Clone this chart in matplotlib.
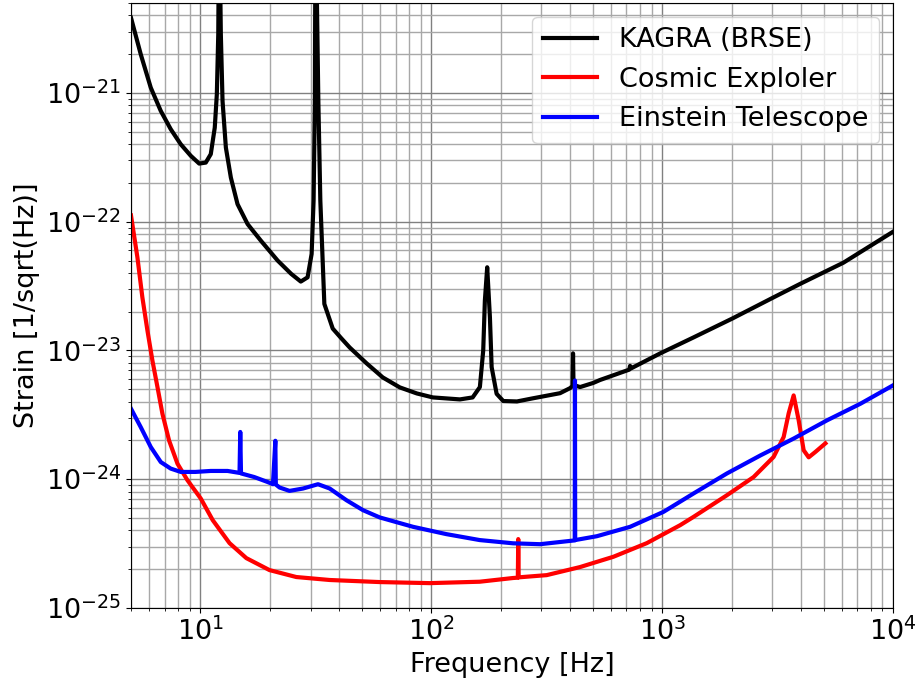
import matplotlib
matplotlib.use('Agg')
import matplotlib.pyplot as plt

###############################################################################
# Data
###############################################################################
KAGRA_F = [5.0, 5.51, 6.09, 6.73, 7.43, 8.21, 9.08, 9.87, 10.54, 11.08,
           11.53, 11.77, 11.94, 12.05, 12.25, 12.46, 12.88, 13.54, 14.47,
           16.0, 18.26, 21.6, 24.7, 27.2, 29.1, 30.3, 30.9, 31.3, 31.5, 32.4,
           33.05, 34.4, 37.4, 40.8, 44.3, 52.5, 61.6, 73.0, 86.5, 101.5,
           133.0, 151.0, 162.3, 167.8, 170.6, 174.6, 179.4, 182.5, 191.8,
           204.9, 235.0, 275.0, 361.0, 399.0, 409.0, 411.0, 413.0, 441.0,
           503.0, 538.0, 720.0, 726.0, 732.0, 980.0, 1363.0, 2012.0, 3030.0,
           3972.0, 6100.0, 10000.0]
KAGRA_H = [3.84e-21, 2.0e-21, 1.1e-21, 7.25e-22, 5.24e-22, 4.0e-22, 3.25e-22,
           2.83e-22, 2.88e-22, 3.35e-22, 5.38e-22, 9.77e-22, 2.86e-21, 3e-20,
           2.86e-21, 8.67e-22, 3.77e-22, 2.2e-22, 1.37e-22, 9.59e-23,
           7.13e-23, 4.99e-23, 3.94e-23, 3.43e-23, 3.7e-23, 5.62e-23,
           1.46e-22, 8.67e-22, 3e-20, 8.67e-22, 1.46e-22, 2.3e-23, 1.48e-23,
           1.24e-23, 1.055e-23, 7.93e-24, 6.18e-24, 5.17e-24, 4.64e-24,
           4.32e-24, 4.17e-24, 4.32e-24, 5.2e-24, 1.0e-23, 2.44e-23, 4.43e-23,
           1.81e-23, 7.43e-24, 4.61e-24, 4.05e-24, 4.02e-24, 4.25e-24,
           4.66e-24, 5.1e-24, 5.3e-24, 9.5e-24, 5.4e-24, 5.2e-24, 5.6e-24,
           5.9e-24, 7.1e-24, 7.6e-24, 7.25e-24, 9.49e-24, 1.26e-23, 1.77e-23,
           2.58e-23, 3.3e-23, 4.81e-23, 8.36e-23]

CE_F = [5.0, 5.33, 5.6, 5.89, 6.19, 6.51, 6.84, 7.31, 7.95, 8.78, 10.03,
        11.3, 13.36, 15.8, 19.9, 26.0, 36.3, 59.8, 98.5, 162.0, 226.0, 237.0,
        238.0, 239.0, 316.0, 441.0, 615.0, 858.0, 1197.0, 1367.0, 1909.0,
        2489.0, 3039.0, 3360.0, 3532.0, 3712.0, 3903.0, 4102.0, 4313.0,
        4611.0, 5095.0]
CE_H = [1.12e-22, 5.29e-23, 2.59e-23, 1.43e-23, 8.36e-24, 5.2e-24, 3.23e-24,
        2.0e-24, 1.32e-24, 9.83e-25, 7.08e-25, 4.81e-25, 3.19e-25, 2.44e-25,
        1.97e-25, 1.74e-25, 1.65e-25, 1.59e-25, 1.56e-25, 1.6e-25, 1.71e-25,
        1.72e-25, 3.43e-25, 1.73e-25, 1.8e-25, 2.08e-25, 2.5e-25, 3.19e-25,
        4.4e-25, 5.1e-25, 7.52e-25, 1.04e-24, 1.49e-24, 2.13e-24, 3.25e-24,
        4.48e-24, 2.87e-24, 1.68e-24, 1.48e-24, 1.63e-24, 1.9e-24]

ET_F = [5.0, 5.51, 6.09, 6.73, 7.43, 8.21, 9.5, 11.08, 13.1, 14.76, 14.87,
        14.98, 17.1, 19.5, 20.6, 21.1, 21.2, 22.0, 24.3, 27.8, 32.3, 36.3,
        42.9, 50.6, 59.8, 83.4, 116.0, 162.0, 226.0, 296.0, 399.0, 418.0,
        419.0, 420.0, 521.0, 726.0, 1013.0, 1367.0, 1909.0, 2662.0, 3712.0,
        5182.0, 7227.0, 10000.0]
ET_H = [3.53e-24, 2.54e-24, 1.78e-24, 1.36e-24, 1.21e-24, 1.14e-24, 1.14e-24,
        1.16e-24, 1.16e-24, 1.12e-24, 2.33e-24, 1.11e-24, 1.04e-24,
        9.53e-25, 9.15e-25, 1.99e-24, 9.1e-25, 8.63e-25, 8.12e-25, 8.47e-25,
        9.15e-25, 8.47e-25, 6.87e-25, 5.75e-25, 5.05e-25, 4.27e-25, 3.75e-25,
        3.37e-25, 3.18e-25, 3.13e-25, 3.32e-25, 3.35e-25, 5.85e-24, 3.37e-25,
        3.61e-25, 4.27e-25, 5.58e-25, 7.75e-25, 1.11e-24, 1.53e-24, 2.07e-24,
        2.87e-24, 3.86e-24, 5.36e-24]

LABELS = ['KAGRA (BRSE)', 'Cosmic Exploler', 'Einstein Telescope']
COLORS = ['k', 'r', 'b']
FS = 19.5
###############################################################################
# Plot
###############################################################################
fig = plt.figure(figsize=(9.17, 6.82), dpi=100)
ax = fig.add_axes([131 / 917, 74 / 682, 762 / 917, 605 / 682])
for (f, h, lab, col) in zip(
    [KAGRA_F, CE_F, ET_F], [KAGRA_H, CE_H, ET_H], LABELS, COLORS
):
    ax.loglog(f, h, color=col, lw=3, label=lab)
ax.set_xlim(5, 1e4)
ax.set_ylim(1e-25, 5e-21)
ax.grid(True, which='major', color='#808080', lw=1)
ax.grid(True, which='minor', color='#a8a8a8', lw=1)
ax.set_axisbelow(True)
ax.tick_params(labelsize=FS)
ax.set_xlabel('Frequency [Hz]', fontsize=FS)
ax.set_ylabel('Strain [1/sqrt(Hz)]', fontsize=FS)
ax.legend(loc='upper right', fontsize=FS)
fig.savefig('out.png', dpi=100)
plt.close('all')
